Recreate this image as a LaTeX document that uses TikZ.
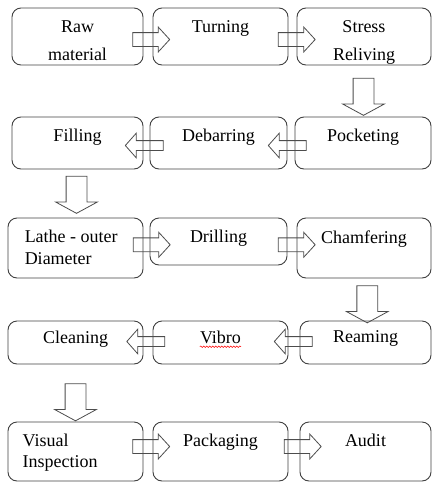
\documentclass[tikz,border=0pt]{standalone}
\usepackage{fontspec}
\setmainfont{Liberation Serif}
\usetikzlibrary{calc,shapes.arrows,decorations.pathmorphing}

\begin{document}
\begin{tikzpicture}[x=1pt,y=-1pt,
  proc/.style={draw=black!75,line width=0.9pt,rounded corners=9pt,inner sep=0pt},
  txt/.style={anchor=north,yshift=#1,align=center,inner sep=0pt,font=\fontsize{18}{21}\selectfont},
  txt/.default=-12.7pt,
  ltxt/.style={txt=#1,anchor=north west,align=left},
  ltxt/.default=-12.7pt,
  rarr/.style={draw=black!70,line width=0.8pt,single arrow,minimum height=37pt,inner sep=6.5pt,
    single arrow head extend=5.5pt,single arrow tip angle=95},
  larr/.style={draw=black!70,line width=0.8pt,single arrow,rotate=180,minimum height=38pt,inner sep=4.5pt,
    single arrow head extend=7.5pt,single arrow tip angle=97},
  darr/.style={draw=black!70,line width=0.8pt,single arrow,rotate=-90,minimum height=37pt,inner sep=10pt,
    single arrow head extend=10.5pt,single arrow tip angle=123},
  spellmark/.style={draw=red,line width=0.5pt,decorate,decoration={snake,amplitude=0.8pt,segment length=3pt}}]
\useasboundingbox (0,0) rectangle (432,483);

\node[proc,minimum width=131pt,minimum height=57pt,label={[txt]north:Raw\\[7pt]material}] (raw) at (77.5,36.5) {};
\node[proc,minimum width=135pt,minimum height=57pt,label={[txt]north:Turning}] (turn) at (220.5,36.5) {};
\node[proc,minimum width=134pt,minimum height=57pt,label={[txt]north:Stress\\[7pt]Reliving}] (stress) at (364,36.5) {};

\node[proc,minimum width=131pt,minimum height=52pt,label={[txt]north:Filling}] (fill) at (77.5,143) {};
\node[proc,minimum width=137pt,minimum height=52pt,label={[txt]north:Debarring}] (deb) at (218.5,143) {};
\node[proc,minimum width=136pt,minimum height=52pt,label={[txt]north:Pocketing}] (pock) at (363,143) {};

\node[proc,minimum width=135pt,minimum height=60pt,label={[ltxt,xshift=17pt]north west:Lathe - outer\\[1pt]Diameter}] (lathe) at (75.5,248) {};
\node[proc,minimum width=137pt,minimum height=47pt,label={[txt]north:Drilling}] (drill) at (218.5,241.5) {};
\node[proc,minimum width=134pt,minimum height=60pt,label={[txt]north:Chamfering}] (chamf) at (364,248) {};

\node[proc,minimum width=135pt,minimum height=43pt,label={[txt=-10pt]north:Cleaning}] (clean) at (75.5,342.5) {};
\node[proc,minimum width=135pt,minimum height=43pt,label={[txt=-10pt,name=vibrotxt]north:Vibro}] (vibro) at (220.5,342.5) {};
\node[proc,minimum width=131pt,minimum height=43pt,label={[txt=-10pt]north:Reaming}] (ream) at (365.5,342.5) {};

\node[proc,minimum width=135pt,minimum height=59pt,label={[ltxt,xshift=15pt]north west:Visual\\Inspection}] (visual) at (75.5,451.5) {};
\node[proc,minimum width=135pt,minimum height=59pt,label={[txt]north:Packaging}] (pack) at (220.5,451.5) {};
\node[proc,minimum width=131pt,minimum height=59pt,label={[txt]north:Audit}] (audit) at (365.5,451.5) {};

\node[rarr,yshift=-3pt] (a1) at ($(raw.east)!.5!(turn.west)$) {};
\node[rarr,xshift=1pt,yshift=-3pt] (a2) at ($(turn.east)!.5!(stress.west)$) {};
\node[darr,xshift=3pt] (d1) at ($(stress.south)!.5!(pock.north)$) {};
\node[larr,xshift=1.5pt,yshift=2.5pt] (b1) at ($(pock.west)!.5!(deb.east)$) {};
\node[larr,yshift=2.5pt] (b2) at ($(deb.west)!.5!(fill.east)$) {};
\node[darr,xshift=-1.5pt] (d2) at ($(fill.south)!.5!(lathe.north)$) {};
\node[rarr,xshift=2pt] (c1) at ($(lathe.east)!.5!(drill.west)$) {};
\node[rarr,xshift=1.5pt] (c2) at ($(drill.east)!.5!(chamf.west)$) {};
\node[darr,xshift=2pt,yshift=2.5pt] (d3) at ($(chamf.south)!.5!(ream.north)$) {};
\node[larr,xshift=-1.5pt,yshift=-1pt] (e1) at ($(ream.west)!.5!(vibro.east)$) {};
\node[larr,yshift=-1pt] (e2) at ($(vibro.west)!.5!(clean.east)$) {};
\node[darr,xshift=6.5pt] (d4) at ($(clean.south)!.5!(visual.north)$) {};
\node[rarr,yshift=5pt] (f1) at ($(visual.east)!.5!(pack.west)$) {};
\node[rarr,xshift=5.5pt,yshift=5pt] (f2) at ($(pack.east)!.5!(audit.west)$) {};

\draw[spellmark] ([yshift=-3pt]vibrotxt.south west) -- ([yshift=-3pt]vibrotxt.south east);
\end{tikzpicture}
\end{document}
